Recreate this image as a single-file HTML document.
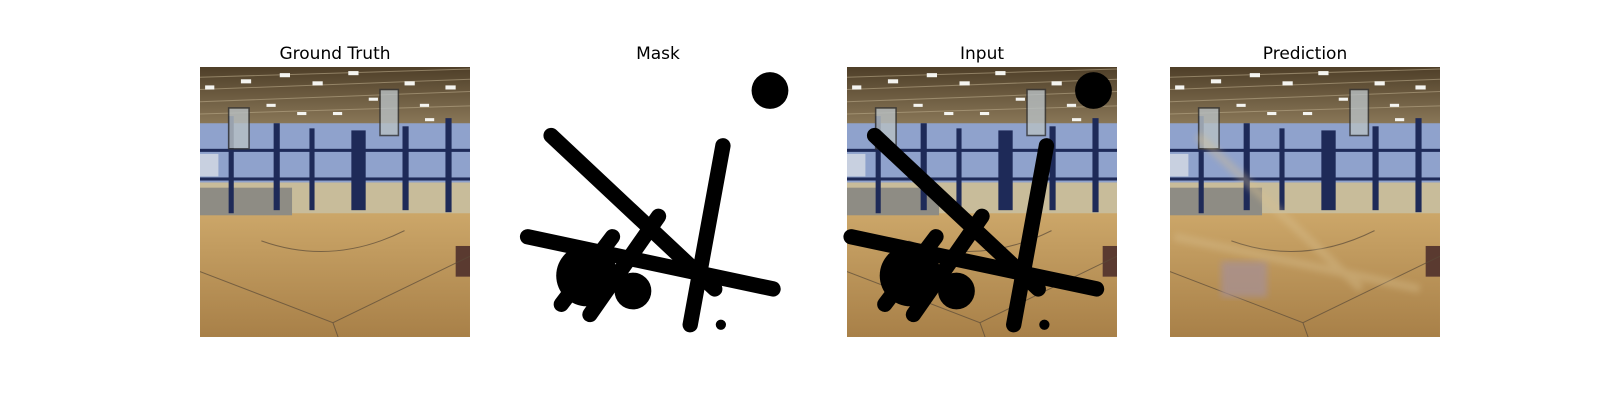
<!DOCTYPE html>
<html><head><meta charset="utf-8"><style>
html,body{margin:0;padding:0;background:#fff;}
svg{display:block;}
text{font-family:"DejaVu Sans","Liberation Sans",sans-serif;font-size:17px;fill:#000;}
</style></head><body>
<svg width="1600" height="400" viewBox="0 0 1600 400">
<defs>
<linearGradient id="floor" x1="0" y1="0" x2="0" y2="1">
<stop offset="0" stop-color="#dcc38e"/><stop offset="0.5" stop-color="#cfaa6c"/><stop offset="1" stop-color="#a88048"/></linearGradient>
<linearGradient id="ceil" x1="0" y1="0" x2="0" y2="1">
<stop offset="0" stop-color="#4e3e28"/><stop offset="1" stop-color="#8c7a5a"/></linearGradient>
<clipPath id="clip"><rect width="264" height="264"/></clipPath>
<g id="gym" clip-path="url(#clip)">
<rect x="0" y="0" width="264" height="264" fill="url(#floor)"/>
<rect x="0" y="0" width="264" height="58" fill="url(#ceil)"/>
<g stroke="#b8a888" stroke-width="1" opacity="0.6">
<line x1="0" y1="10" x2="264" y2="2"/><line x1="0" y1="22" x2="264" y2="12"/><line x1="0" y1="34" x2="264" y2="24"/><line x1="0" y1="46" x2="264" y2="38"/></g>
<g fill="#f4f4f0">
<rect x="5" y="18" width="9" height="4"/><rect x="40" y="12" width="10" height="4"/><rect x="78" y="6" width="10" height="4"/><rect x="110" y="14" width="10" height="4"/><rect x="145" y="4" width="10" height="4"/><rect x="200" y="14" width="10" height="4"/><rect x="240" y="18" width="10" height="4"/><rect x="65" y="36" width="9" height="3"/><rect x="95" y="44" width="9" height="3"/><rect x="130" y="44" width="9" height="3"/><rect x="165" y="30" width="9" height="3"/><rect x="215" y="36" width="9" height="3"/><rect x="220" y="50" width="9" height="3"/></g>
<rect x="0" y="55" width="264" height="58" fill="#8fa2cc"/>
<rect x="0" y="113" width="264" height="30" fill="#c8bc9a"/>
<rect x="0" y="118" width="90" height="27" fill="#8e8c84"/>
<g fill="#1e2a58">
<rect x="28" y="48" width="5" height="95"/><rect x="72" y="55" width="6" height="85"/><rect x="107" y="60" width="5" height="80"/><rect x="148" y="62" width="14" height="78"/><rect x="198" y="58" width="6" height="82"/><rect x="240" y="50" width="6" height="92"/>
<rect x="0" y="80" width="264" height="3"/><rect x="0" y="108" width="264" height="3"/></g>
<rect x="28" y="40" width="20" height="40" fill="#b8c0c4" stroke="#333" stroke-width="1.5" opacity="0.8"/>
<rect x="176" y="22" width="18" height="45" fill="#b8c0c4" stroke="#333" stroke-width="1.5" opacity="0.8"/>
<rect x="0" y="85" width="18" height="22" fill="#e0e4e8" opacity="0.7"/>
<rect x="250" y="175" width="14" height="30" fill="#5a3a30"/>
<g stroke="#5a4a38" stroke-width="1" fill="none" opacity="0.7">
<path d="M0 200 L130 250 L264 185"/><path d="M130 250 L135 264"/><path d="M60 170 Q130 195 200 160"/></g>
</g>
<g id="mask" fill="#000" stroke="#000" stroke-width="15" stroke-linecap="round">
<line x1="27" y1="67" x2="187" y2="217"/>
<line x1="195" y1="77" x2="163" y2="252"/>
<line x1="4" y1="166" x2="244" y2="217"/>
<line x1="132" y1="146" x2="65" y2="242"/>
<line x1="87" y1="166" x2="37" y2="232"/>
<circle cx="62" cy="204" r="30" stroke="none"/>
<circle cx="107" cy="219" r="18" stroke="none"/>
<circle cx="241" cy="23" r="18" stroke="none"/>
<circle cx="193" cy="252" r="5" stroke="none"/>
</g>
<filter id="blur"><feGaussianBlur stdDeviation="3"/></filter>
</defs>
<text x="335" y="59" text-anchor="middle">Ground Truth</text>
<text x="658" y="59" text-anchor="middle">Mask</text>
<text x="982" y="59" text-anchor="middle">Input</text>
<text x="1305" y="59" text-anchor="middle">Prediction</text>
<g transform="translate(200,67) scale(1.0227)"><use href="#gym"/></g>
<g transform="translate(523.5,67) scale(1.0227)"><rect width="264" height="264" fill="#fff"/><use href="#mask"/></g>
<g transform="translate(847,67) scale(1.0227)"><use href="#gym"/><use href="#mask"/></g>
<g transform="translate(1170,67) scale(1.0227)" clip-path="url(#clip)"><use href="#gym"/>
<rect x="50" y="190" width="45" height="35" fill="#a89090" filter="url(#blur)" opacity="0.8"/>
<g stroke="#d8c090" stroke-width="8" opacity="0.4" filter="url(#blur)"><line x1="27" y1="67" x2="187" y2="217"/><line x1="4" y1="166" x2="244" y2="217"/></g></g>
</svg>
</body></html>
